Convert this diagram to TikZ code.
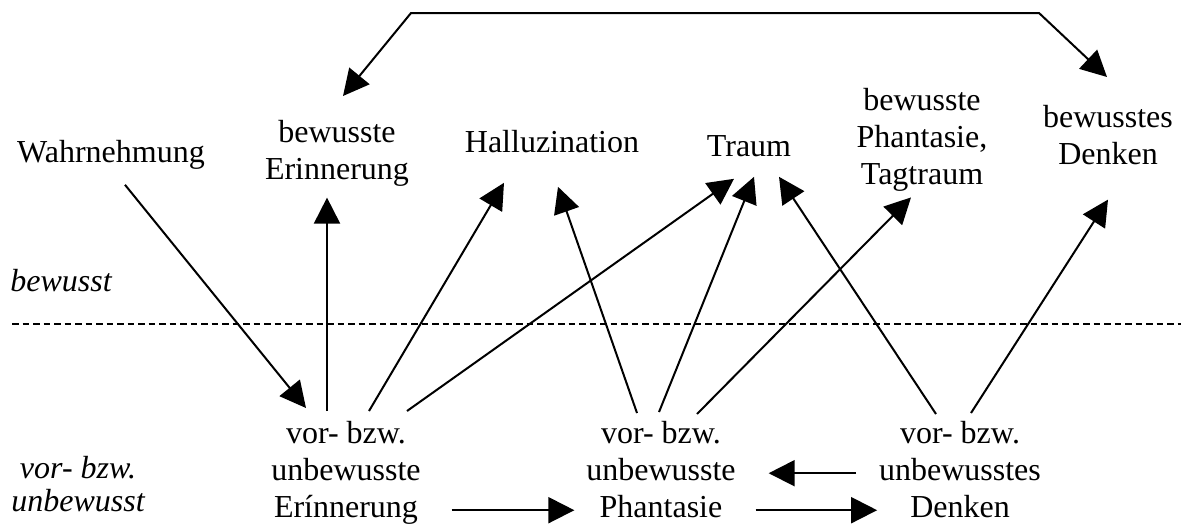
\documentclass[tikz,border=0pt]{standalone}
\usepackage{fontspec}
\setmainfont{Liberation Serif}
\usetikzlibrary{arrows.meta}
\begin{document}
\begin{tikzpicture}[x=0.5pt,y=-0.5pt,
  lbl/.style={inner sep=0pt, outer sep=0pt, align=center, anchor=north, font=\fontsize{16}{18.4}\selectfont},
  ital/.style={lbl, font=\fontsize{16}{15}\selectfont\itshape},
  arr/.style={-{Triangle[length=13pt,width=13pt]}, line width=1pt},
  dbl/.style={{Triangle[length=13pt,width=13pt]}-{Triangle[length=13pt,width=13pt]}, line width=1pt},
  sep/.style={dash pattern=on 3.25pt off 2pt, line width=0.75pt}]
\useasboundingbox (0,0) rectangle (1181,527);

% upper row
\node[lbl] (wahr)  at (111,137) {\strut Wahrnehmung};
\node[lbl] (bewE)  at (337,117) {\strut bewusste\\\strut Erinnerung};
\node[lbl] (hall)  at (552,127) {\strut Halluzination};
\node[lbl] (traum) at (749,131) {\strut Traum};
\node[lbl] (tag)   at (922,85)  {\strut bewusste\\\strut Phantasie,\\\strut Tagtraum};
\node[lbl] (bewD)  at (1108,102) {\strut bewusstes\\\strut Denken};

% lower row
\node[lbl] (uE) at (346,418) {\strut vor- bzw.\\\strut unbewusste\\\strut Erínnerung};
\node[lbl] (uP) at (661,418) {\strut vor- bzw.\\\strut unbewusste\\\strut Phantasie};
\node[lbl] (uD) at (960,418) {\strut vor- bzw.\\\strut unbewusstes\\\strut Denken};

% side labels
\node[lbl, font=\fontsize{16}{18.4}\selectfont\itshape] (lb) at (61,266) {\strut bewusst};
\node[ital] (lu) at (78,456) {\strut vor- bzw.\\\strut unbewusst};

% separator
\coordinate (s1) at (12,324);
\coordinate (s2) at (1181,324);
\draw[sep] (s1) -- (s2);

% top connector
\coordinate (c1) at (411,13);
\coordinate (c2) at (1039,13);
\draw[dbl] ([shift={(6,-21)}]bewE.north) -- (c1) -- (c2) -- ([shift={(-1,-25)}]bewD.north);

% arrows
\draw[arr] ([shift={(14,11)}]wahr.south) -- ([shift={(-40,-10)}]uE.north);
\draw[arr] ([shift={(-19,-7)}]uE.north) -- ([shift={(-10,7)}]bewE.south);
\draw[arr] ([shift={(23,-7)}]uE.north) -- ([shift={(-48,19)}]hall.south);
\draw[arr] ([shift={(61,-7)}]uE.north) -- ([shift={(-15,11)}]traum.south);
\draw[arr] ([shift={(-24,-5)}]uP.north) -- ([shift={(6,23)}]hall.south);
\draw[arr] ([shift={(-2,-6)}]uP.north) -- ([shift={(5,9)}]traum.south);
\draw[arr] ([shift={(36,-4)}]uP.north) -- ([shift={(-11,2)}]tag.south);
\draw[arr] ([shift={(-24,-4)}]uD.north) -- ([shift={(30,9)}]traum.south);
\draw[arr] ([shift={(11,-5)}]uD.north) -- ([shift={(0,24)}]bewD.south);

\draw[arr] ([shift={(31,37)}]uE.east) -- ([shift={(-12,37)}]uP.west);
\draw[arr] ([shift={(-23,0)}]uD.west) -- ([shift={(33,0)}]uP.east);
\draw[arr] ([shift={(20,37)}]uP.east) -- ([shift={(-2,37)}]uD.west);
\end{tikzpicture}
\end{document}
